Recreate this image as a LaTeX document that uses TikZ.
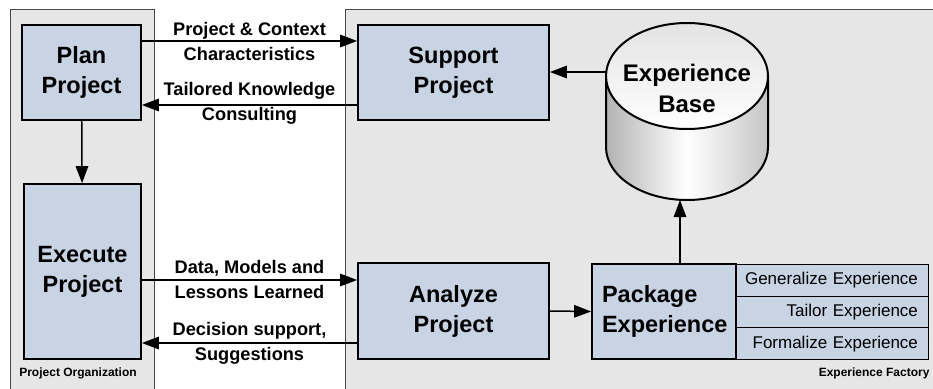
\documentclass[tikz,border=0pt]{standalone}
\usepackage{fontspec}
\setmainfont{Liberation Sans}
\usetikzlibrary{arrows.meta}

\definecolor{boxfill}{RGB}{200,211,228}
\definecolor{panelgray}{RGB}{230,230,230}
\definecolor{panelline}{RGB}{70,70,70}

\begin{document}
\begin{tikzpicture}[x=1pt,y=-1pt,
  panel/.style={fill=panelgray,draw=panelline,line width=0.9pt},
  bigbox/.style={draw=black,fill=boxfill,line width=1.8pt,inner sep=0pt,
    align=center,font=\fontsize{23.5}{30}\selectfont\bfseries},
  subbox/.style={draw=black,fill=boxfill,line width=0.9pt,anchor=north west,
    inner xsep=5.5pt,inner ysep=0pt,text width=181pt,minimum height=31.7pt,
    align=right,font=\fontsize{17}{20}\selectfont},
  flowlabel/.style={align=center,font=\fontsize{18.2}{25}\selectfont\bfseries},
  arealabel/.style={font=\fontsize{12}{14}\selectfont\bfseries},
  arr/.style={line width=1.5pt,-{Triangle[length=17pt,width=12.5pt]}}]

\useasboundingbox (0,0) rectangle (933,388);
\clip (0,0) rectangle (933,388);
\fill[white] (0,0) rectangle (933,388);

% the two organisational areas
\draw[panel] (10,9) rectangle (154,400);
\draw[panel] (345,9) rectangle (950,400);
\node[arealabel] (porg) at (78,373) {Project Organization};
\node[arealabel,anchor=east] (efac) at (933,373) {Experience Factory};

% project organization activities
\node[bigbox,minimum width=119pt,minimum height=95pt] (plan) at (81.5,72.5) {Plan\\Project};
\node[bigbox,minimum width=117pt,minimum height=175pt] (exec) at (82.5,271.5) {Execute\\Project};

% experience factory activities
\node[bigbox,minimum width=191pt,minimum height=95pt] (support) at (453.5,72.5) {Support\\Project};
\node[bigbox,minimum width=191pt,minimum height=96pt] (analyze) at (453.5,311) {Analyze\\Project};
\node[bigbox,minimum width=144pt,minimum height=95pt,align=left,
  text width=124pt,inner xsep=10pt] (package) at (664,311.5) {Package\\Experience};
\node[subbox] (gen) at (736,264) {Generalize Experience\kern5pt};
\node[subbox] (tai) at (736,295.7) {Tailor Experience\kern5pt};
\node[subbox] (for) at (736,327.4) {Formalize Experience\kern5pt};

% experience base cylinder
\shade[left color=gray!60,right color=gray!45,middle color=white]
  (606,76) -- (606,147) arc[start angle=180,end angle=0,x radius=81,y radius=53]
  -- (768,76) -- cycle;
\draw[line width=2pt]
  (606,76) -- (606,147) arc[start angle=180,end angle=0,x radius=81,y radius=53]
  -- (768,76);
\shade[top color=gray!22,bottom color=white] (687,76) ellipse[x radius=81,y radius=53];
\draw[line width=2pt] (687,76) ellipse[x radius=81,y radius=53];
\node[align=center,font=\fontsize{24}{31}\selectfont\bfseries] (eb) at (687,88) {Experience\\Base};
\coordinate (ebleft) at (606,72);
\coordinate (ebbottom) at (680,200);

% flows
\draw[arr] (plan) -- (exec);
\draw[arr] ([yshift=31.5pt]plan.east) -- ([yshift=31.5pt]support.west)
  node[flowlabel,midway] (l1) {Project \& Context\\Characteristics};
\draw[arr] ([yshift=-32.5pt]support.west) -- ([yshift=-32.5pt]plan.east)
  node[flowlabel,midway,yshift=1.5pt] (l2) {Tailored Knowledge\\Consulting};
\draw[arr] ([yshift=-8.5pt]exec.east) -- ([yshift=31pt]analyze.west)
  node[flowlabel,midway,yshift=1pt] (l3) {Data, Models and\\Lessons Learned};
\draw[arr] ([yshift=-32pt]analyze.west) -- ([yshift=-71.5pt]exec.east)
  node[flowlabel,midway] (l4) {Decision support,\\Suggestions};
\draw[arr] (analyze.east) -- (package.west);
\draw[arr] (ebleft) -- (support.east |- ebleft);
\draw[arr] (package.north -| ebbottom) -- (ebbottom);

\end{tikzpicture}
\end{document}
